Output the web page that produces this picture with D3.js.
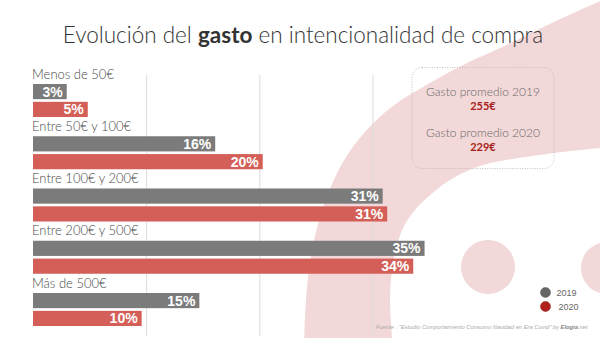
<!DOCTYPE html>
<html><head><meta charset="utf-8">
<script src="https://cdn.jsdelivr.net/npm/d3@7"></script>
<style>
html,body{margin:0;padding:0;background:#fff;}
svg{display:block;}
</style></head>
<body>
<script>
// ---- data ----
const categories = ["Menos de 50€", "Entre 50€ y 100€", "Entre 100€ y 200€", "Entre 200€ y 500€", "Más de 500€"];
const seriesNames = ["2019", "2020"];
const values2019 = [2.98, 16.1, 30.9, 34.6, 14.7];
const values2020 = [4.84, 20.3, 31.3, 33.6, 9.6];
const gridTicks = [10, 20, 30];
const averageLabels = ["Gasto promedio 2019", "Gasto promedio 2020"];
const averageValues = ["255€", "229€"];
const sourceText = ["Fuente : \"Estudio Comportamiento Consumo Navidad en Era Covid\" by ", "Elogia", ".net"];

// decorative background outline points
const arcOuter = [[612,-4],[580,10],[537,30],[500,48],[467,63],[430,83],[393,106],[365,132],[343,162],[325,202],[312,250],[306,300],[304,350]];
const arcInner = [[393,350],[390,300],[392,270],[397,245],[404,226],[415,210],[428,197],[447,182],[480,166],[547,154],[612,147]];

const W = 600, H = 338;
const colors = {"2019": "#7b7b7b", "2020": "#d45f58"};
const bgPink = "#f2d8d8";

const svg = d3.select("body").append("svg").attr("width", W).attr("height", H);

// background shape
const line = d3.line().curve(d3.curveCatmullRom.alpha(0.5));
const outerD = line(arcOuter);
const innerD = line(arcInner);
const bgPath = outerD + " L393,350 " + innerD.replace(/^M/, "L") + " Z";
svg.append("path").attr("d", bgPath).attr("fill", bgPink);
svg.append("circle").attr("cx", 488).attr("cy", 267).attr("r", 27).attr("fill", bgPink);
svg.append("circle").attr("cx", 607).attr("cy", 268).attr("r", 26).attr("fill", bgPink);

// scales
const x = d3.scaleLinear().domain([0, 30]).range([33, 372.5]);
const yGroup = d3.scaleBand().domain(categories).range([66, 327.25]).paddingInner(0);
const ySeries = d3.scaleBand().domain(seriesNames).range([18, 51]).paddingInner(0.15);

// gridlines
const grid = svg.append("g").attr("transform", "translate(0,336)")
  .call(d3.axisBottom(x).tickValues(gridTicks).tickSize(-261).tickFormat(""));
grid.select(".domain").remove();
grid.selectAll(".tick line").attr("stroke", "#dcdcdc").attr("stroke-width", 1);

// title
const title = svg.append("text").attr("x", 303).attr("y", 43).attr("text-anchor", "middle")
  .attr("font-family", "Lato, 'Open Sans', sans-serif").attr("font-size", 22.5).attr("font-weight", 300).attr("fill", "#333");
title.append("tspan").text("Evolución del ");
title.append("tspan").attr("font-weight", 700).text("gasto");
title.append("tspan").text(" en intencionalidad de compra");

// groups
const data = categories.map((c, i) => ({cat: c, vals: [{s: "2019", v: values2019[i]}, {s: "2020", v: values2020[i]}]}));
const g = svg.selectAll("g.grp").data(data).join("g").attr("class", "grp")
  .attr("transform", d => `translate(0,${yGroup(d.cat)})`);

g.append("text").attr("x", 32).attr("y", 12.5)
  .attr("font-family", "Lato, 'Open Sans', sans-serif").attr("font-size", 13).attr("font-weight", 300)
  .attr("fill", "#4a4a4a").text(d => d.cat);

const fmt = v => d3.format(".0f")(v) + "%";
g.selectAll("rect").data(d => d.vals).join("rect")
  .attr("x", x(0)).attr("y", d => ySeries(d.s))
  .attr("width", d => x(d.v) - x(0)).attr("height", ySeries.bandwidth())
  .attr("fill", d => colors[d.s]);
g.selectAll("text.val").data(d => d.vals).join("text").attr("class", "val")
  .attr("x", d => x(d.v) - 4).attr("y", d => ySeries(d.s) + ySeries.bandwidth() / 2 + 5)
  .attr("text-anchor", "end").attr("font-family", "'Liberation Sans', Arial, sans-serif")
  .attr("font-weight", 700).attr("font-size", 14).attr("fill", "#fff").text(d => fmt(d.v));

// info box
svg.append("rect").attr("x", 412).attr("y", 67.5).attr("width", 142).attr("height", 101).attr("rx", 10)
  .attr("fill", "none").attr("stroke", "#b8b0b0").attr("stroke-width", 0.8).attr("stroke-dasharray", "1,1.5");
averageLabels.forEach((t, i) => {
  svg.append("text").attr("x", 483).attr("y", 96 + i * 41).attr("text-anchor", "middle")
    .attr("font-family", "Lato, 'Open Sans', sans-serif").attr("font-size", 12).attr("font-weight", 300)
    .attr("fill", "#6a6a6a").text(t);
  svg.append("text").attr("x", 483).attr("y", 110 + i * 41).attr("text-anchor", "middle")
    .attr("font-family", "Lato, 'Open Sans', sans-serif").attr("font-size", 11).attr("font-weight", 700)
    .attr("fill", "#a81e1a").text(averageValues[i]);
});

// legend
const legColors = {"2019": "#666", "2020": "#b0201a"};
seriesNames.forEach((s, i) => {
  svg.append("circle").attr("cx", 545.5).attr("cy", 292.5 + i * 14).attr("r", 5)
    .attr("fill", legColors[s]).attr("stroke", i ? "#8a1410" : "#555").attr("stroke-width", 0.5);
  svg.append("text").attr("x", 556.5 + i * 2).attr("y", 295.5 + i * 14)
    .attr("font-family", "'Liberation Sans', Arial, sans-serif").attr("font-size", 9)
    .attr("fill", "#666").text(s);
});

// source
const src = svg.append("text").attr("x", 376).attr("y", 329)
  .attr("font-family", "'Liberation Sans', Arial, sans-serif").attr("font-size", 5.8).attr("font-style", "italic")
  .attr("fill", "#aaa");
src.append("tspan").text(sourceText[0]);
src.append("tspan").attr("font-weight", 700).attr("fill", "#888").text(sourceText[1]);
src.append("tspan").text(sourceText[2]);
</script>
</body></html>
